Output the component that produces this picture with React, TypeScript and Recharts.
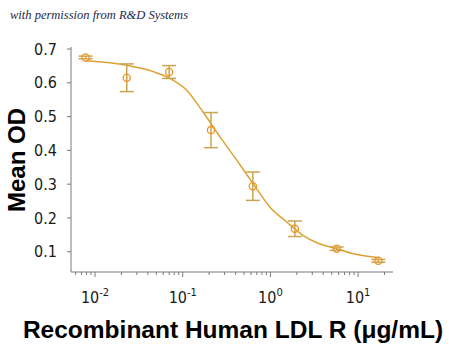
import React from "react";
import { ComposedChart, Line, Scatter, ErrorBar, XAxis, YAxis } from "recharts";

// Measured points (concentration in µg/mL, mean OD, error)
const conc = [0.0078, 0.023, 0.07, 0.21, 0.63, 1.9, 5.7, 17];
const meanOD = [0.675, 0.615, 0.632, 0.46, 0.294, 0.168, 0.109, 0.073];
const errOD = [0.004, 0.041, 0.019, 0.052, 0.042, 0.023, 0.005, 0.004];

// Fitted curve
const curveX = [0.00783, 0.023, 0.0462, 0.0716, 0.111, 0.172, 0.266, 0.413, 0.638, 0.989, 1.535, 2.37, 3.68, 5.7, 8.81, 17.46];
const curveY = [0.665, 0.652, 0.633, 0.613, 0.578, 0.512, 0.44, 0.371, 0.301, 0.232, 0.188, 0.148, 0.123, 0.109, 0.094, 0.082];

// Axis ticks
const majorTicks = [0.01, 0.1, 1, 10];
const minorTicks = [
  0.006, 0.007, 0.008, 0.009,
  0.02, 0.03, 0.04, 0.05, 0.06, 0.07, 0.08, 0.09,
  0.2, 0.3, 0.4, 0.5, 0.6, 0.7, 0.8, 0.9,
  2, 3, 4, 5, 6, 7, 8, 9, 20,
];
const yTicks = [0.1, 0.2, 0.3, 0.4, 0.5, 0.6, 0.7];

const points = conc.map((x, i) => ({ x, y: meanOD[i], err: errOD[i] }));
const curve = curveX.map((x, i) => ({ x, y: curveY[i] }));
const allXTicks = [...minorTicks, ...majorTicks].sort((a, b) => a - b);

const AXIS = "#7a7a7a";
const NARROW = "'Liberation Sans Narrow', 'DejaVu Sans Condensed', 'Roboto Condensed', sans-serif";

const XTick = (props: any) => {
  const { x, y, payload } = props;
  const v = payload.value;
  const major = majorTicks.includes(v);
  const exp = Math.round(Math.log10(v));
  return (
    <g>
      <line x1={x} x2={x} y1={y} y2={y + (major ? 5 : 3)} stroke={AXIS} strokeWidth={1} />
      {major && (
        <text x={x} y={y + 31} textAnchor="middle" fontFamily={NARROW} fontSize={16} fill="#1a1a1a">
          <tspan>10</tspan>
          <tspan dy={-7} fontSize={11}>{String(exp)}</tspan>
        </text>
      )}
    </g>
  );
};

const Dot = (props: any) => {
  const { cx, cy } = props;
  if (cx == null || cy == null) return null;
  return <circle cx={cx} cy={cy} r={3.6} fill="none" stroke="#EE9320" strokeWidth={1.3} />;
};

export default function App() {
  return (
    <div style={{ position: "fixed", left: 0, top: 0, width: 450, height: 350, background: "#fff" }}>
      <ComposedChart
        width={450}
        height={350}
        margin={{ top: 47, right: 57, left: 0, bottom: 0 }}
      >
        <XAxis
          dataKey="x"
          type="number"
          scale="log"
          domain={[0.00532, 25]}
          allowDataOverflow
          ticks={allXTicks}
          interval={0}
          tick={<XTick />}
          tickLine={false}
          tickSize={0}
          tickMargin={0}
          height={78}
          axisLine={{ stroke: AXIS, strokeWidth: 1 }}
        />
        <YAxis
          type="number"
          domain={[0.04, 0.706]}
          allowDataOverflow
          ticks={yTicks}
          interval={0}
          width={71}
          tickSize={4}
          tickMargin={10}
          tickLine={{ stroke: AXIS }}
          axisLine={{ stroke: AXIS, strokeWidth: 1 }}
          tick={{ fontSize: 16, fontFamily: NARROW, fill: "#1a1a1a" }}
        />
        <Line
          data={curve}
          dataKey="y"
          type="monotone"
          stroke="#DCA232"
          strokeWidth={1.5}
          dot={false}
          activeDot={false}
          isAnimationActive={false}
        />
        <Scatter data={points} dataKey="y" shape={<Dot />} isAnimationActive={false}>
          <ErrorBar dataKey="err" direction="y" width={7} stroke="#CBA452" strokeWidth={1.5} isAnimationActive={false} />
        </Scatter>
      </ComposedChart>
      <svg
        width={450}
        height={350}
        style={{ position: "absolute", left: 0, top: 0, pointerEvents: "none" }}
      >
        <text x={10} y={19} fontFamily="'Liberation Serif', 'DejaVu Serif', serif" fontStyle="italic" fontSize={12.5} fill="#1c2848">
          with permission from R&amp;D Systems
        </text>
        <text
          x={25}
          y={160}
          transform="rotate(-90 25 160)"
          textAnchor="middle"
          fontFamily="'Liberation Sans', Arial, sans-serif"
          fontWeight="bold"
          fontSize={24}
          fill="#000"
        >
          Mean OD
        </text>
        <text
          x={233}
          y={338}
          textAnchor="middle"
          fontFamily="'Liberation Sans', Arial, sans-serif"
          fontWeight="bold"
          fontSize={24.5}
          fill="#000"
        >
          Recombinant Human LDL R (μg/mL)
        </text>
      </svg>
    </div>
  );
}
